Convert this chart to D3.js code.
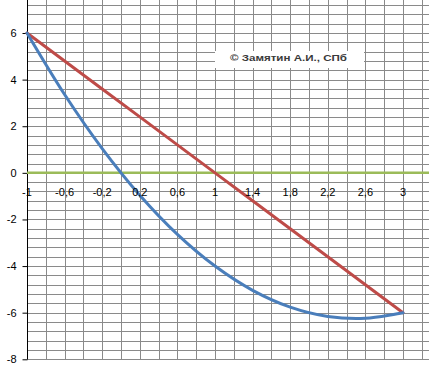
<!DOCTYPE html>
<html>
<head>
<meta charset="utf-8">
<script src="https://cdn.jsdelivr.net/npm/d3@7"></script>
<style>
  body { margin: 0; background: #fff; }
  svg { display: block; font-family: "Liberation Sans", Arial, sans-serif; }
</style>
</head>
<body>
<div id="chart"></div>
<script>
var xValues = [-1, -0.6, -0.2, 0.2, 0.6, 1, 1.4, 1.8, 2.2, 2.6, 3];
var curveValues = [6, 3.36, 1.04, -0.96, -2.64, -4, -5.04, -5.76, -6.16, -6.24, -6];
var chordValues = [6, 4.8, 3.6, 2.4, 1.2, 0, -1.2, -2.4, -3.6, -4.8, -6];
var zeroX = [-1, 3.4];
var zeroValues = [0, 0];
var xTickLabels = [-1, -0.6, -0.2, 0.2, 0.6, 1, 1.4, 1.8, 2.2, 2.6, 3];
var yTickLabels = [6, 4, 2, 0, -2, -4, -6, -8];
var credit = '\u00a9 Замятин А.И., СПб';

var width = 429, height = 375;

var x = d3.scaleLinear().domain([-1, 3]).range([27, 403]);
var y = d3.scaleLinear().domain([-8, 6]).range([359.3, 33]);

var svg = d3.select('#chart').append('svg')
    .attr('width', width)
    .attr('height', height);

function comma(v) { return String(v).replace('.', ','); }

// grid
var gx = d3.range(-0.8, 3.45, 0.2);
var gy = d3.range(-7.6, 7.5, 0.4);

svg.append('g').selectAll('line')
    .data(gx)
    .enter().append('line')
    .attr('x1', function (d) { return Math.round(x(d)) + 0.5; })
    .attr('x2', function (d) { return Math.round(x(d)) + 0.5; })
    .attr('y1', 0)
    .attr('y2', y(-8))
    .attr('stroke', '#8a8a8a')
    .attr('stroke-width', 1);

svg.append('g').selectAll('line')
    .data(gy)
    .enter().append('line')
    .attr('x1', x(-1))
    .attr('x2', width)
    .attr('y1', function (d) { return Math.round(y(d)) + 0.5; })
    .attr('y2', function (d) { return Math.round(y(d)) + 0.5; })
    .attr('stroke', '#8a8a8a')
    .attr('stroke-width', 1);

// bottom border line
svg.append('line')
    .attr('x1', x(-1)).attr('x2', width)
    .attr('y1', Math.round(y(-8)) + 0.5).attr('y2', Math.round(y(-8)) + 0.5)
    .attr('stroke', '#8a8a8a');

// y axis
var yAxis = d3.axisLeft(y)
    .tickValues(yTickLabels)
    .tickSize(5)
    .tickPadding(6)
    .tickFormat(function (d) { return comma(d); });

var ya = svg.append('g')
    .attr('transform', 'translate(' + (Math.round(x(-1)) + 0.5) + ',0)')
    .call(yAxis);
ya.select('.domain').remove();
ya.selectAll('.tick line').attr('stroke', '#000');
ya.selectAll('text').attr('font-size', 11).attr('fill', '#000');
ya.append('line')
    .attr('y1', 0).attr('y2', y(-8))
    .attr('stroke', '#000');

// credit box (white, hides the grid behind it)
svg.append('rect')
    .attr('x', 215).attr('y', 51)
    .attr('width', 149).attr('height', 17)
    .attr('fill', '#fff');

svg.append('text')
    .attr('x', 230)
    .attr('y', 60.5)
    .attr('textLength', 117)
    .attr('lengthAdjust', 'spacingAndGlyphs')
    .attr('font-size', 8.5)
    .attr('font-weight', 'bold')
    .attr('fill', '#3a3a3a')
    .text(credit);

// series
var line = d3.line()
    .x(function (d) { return x(d[0]); })
    .y(function (d) { return y(d[1]); });

svg.append('path')
    .datum(d3.zip(zeroX, zeroValues))
    .attr('d', line)
    .attr('fill', 'none')
    .attr('stroke', '#9BBB59')
    .attr('stroke-width', 2.5);

svg.append('path')
    .datum(d3.zip(xValues, chordValues))
    .attr('d', line)
    .attr('fill', 'none')
    .attr('stroke', '#BE4B48')
    .attr('stroke-width', 3)
    .attr('stroke-linecap', 'round');

svg.append('path')
    .datum(d3.zip(xValues, curveValues))
    .attr('d', line.curve(d3.curveCatmullRom.alpha(0.5)))
    .attr('fill', 'none')
    .attr('stroke', '#4A7EBB')
    .attr('stroke-width', 3)
    .attr('stroke-linecap', 'round');

// x labels along zero line
svg.append('g').selectAll('text')
    .data(xTickLabels)
    .enter().append('text')
    .attr('x', function (d) { return x(d); })
    .attr('y', y(0) + 23)
    .attr('text-anchor', 'middle')
    .attr('font-size', 11)
    .attr('fill', '#000')
    .text(function (d) { return comma(d); });
</script>
</body>
</html>
